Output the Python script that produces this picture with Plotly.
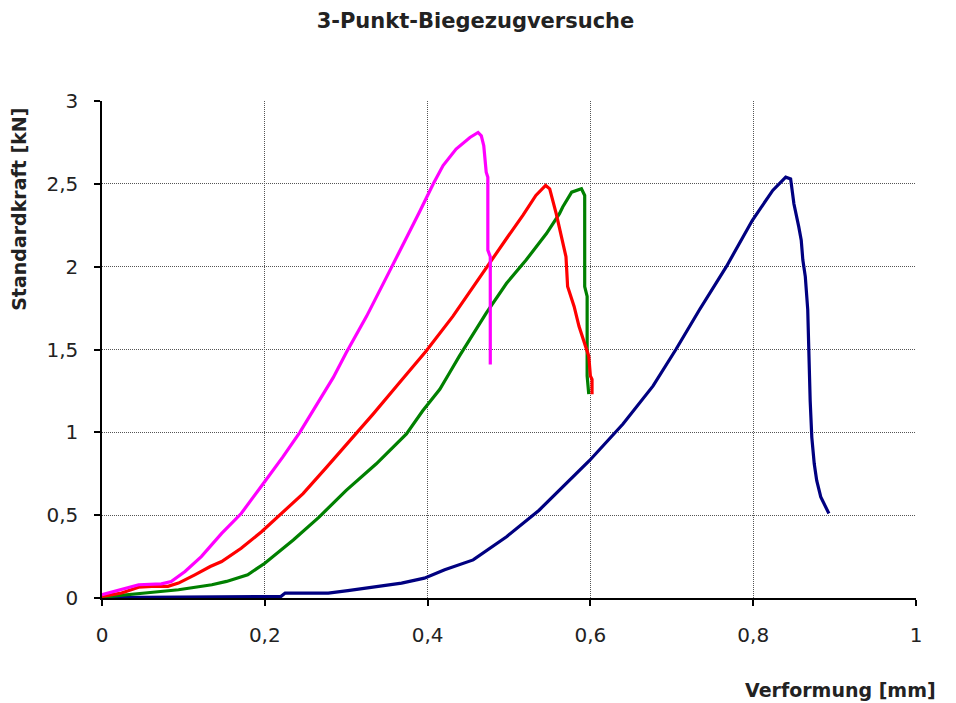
import plotly.graph_objects as go

# Verformung [mm] / Standardkraft [kN] per specimen
magenta_x = [0.0, 0.016, 0.032, 0.045, 0.073, 0.085, 0.102, 0.122, 0.147, 0.171, 0.198, 0.222, 0.243, 0.267, 0.284,
             0.300, 0.325, 0.353, 0.378, 0.390, 0.407, 0.419, 0.435, 0.452, 0.462, 0.466, 0.469, 0.472, 0.474, 0.474,
             0.477, 0.477]
magenta_y = [0.02, 0.04, 0.065, 0.08, 0.085, 0.10, 0.16, 0.25, 0.39, 0.51, 0.69, 0.85, 1.00, 1.19, 1.33,
             1.48, 1.70, 1.97, 2.21, 2.33, 2.50, 2.61, 2.71, 2.78, 2.81, 2.79, 2.73, 2.57, 2.54, 2.10,
             2.06, 1.41]

red_x = [0.0, 0.024, 0.045, 0.061, 0.081, 0.094, 0.114, 0.133, 0.147, 0.171, 0.196, 0.220, 0.247, 0.276, 0.312,
         0.333, 0.362, 0.398, 0.431, 0.456, 0.472, 0.497, 0.517, 0.533, 0.545, 0.550, 0.558, 0.566, 0.570, 0.572,
         0.580, 0.586, 0.593, 0.598, 0.600, 0.602, 0.602]
red_y = [0.01, 0.03, 0.065, 0.07, 0.07, 0.09, 0.14, 0.19, 0.22, 0.30, 0.40, 0.51, 0.63, 0.79, 0.99,
         1.11, 1.28, 1.49, 1.70, 1.88, 1.99, 2.17, 2.31, 2.43, 2.49, 2.47, 2.32, 2.16, 2.06, 1.88,
         1.76, 1.64, 1.54, 1.46, 1.34, 1.32, 1.23]

green_x = [0.0, 0.028, 0.053, 0.094, 0.135, 0.153, 0.179, 0.200, 0.235, 0.267, 0.300, 0.337, 0.374, 0.394, 0.415,
           0.427, 0.439, 0.472, 0.497, 0.521, 0.546, 0.562, 0.566, 0.577, 0.589, 0.593, 0.593, 0.596, 0.596, 0.598]
green_y = [0.005, 0.02, 0.03, 0.05, 0.08, 0.10, 0.14, 0.21, 0.35, 0.49, 0.65, 0.81, 0.99, 1.13, 1.26,
           1.36, 1.46, 1.72, 1.90, 2.04, 2.20, 2.32, 2.36, 2.45, 2.47, 2.43, 1.88, 1.82, 1.34, 1.23]

navy_x = [0.0, 0.10, 0.22, 0.225, 0.253, 0.278, 0.302, 0.339, 0.368, 0.396, 0.421, 0.456, 0.497, 0.537, 0.599,
          0.640, 0.677, 0.705, 0.734, 0.767, 0.799, 0.824, 0.840, 0.846, 0.850, 0.856, 0.859, 0.861, 0.864, 0.867,
          0.868, 0.870, 0.872, 0.875, 0.878, 0.883, 0.893]
navy_y = [0.003, 0.005, 0.01, 0.03, 0.03, 0.03, 0.045, 0.07, 0.09, 0.12, 0.17, 0.23, 0.37, 0.53, 0.83,
          1.05, 1.28, 1.50, 1.74, 2.00, 2.28, 2.46, 2.54, 2.53, 2.38, 2.24, 2.16, 2.04, 1.94, 1.74,
          1.48, 1.19, 0.97, 0.81, 0.71, 0.61, 0.51]

x_ticks = [0, 0.2, 0.4, 0.6, 0.8, 1]
x_labels = ["0", "0,2", "0,4", "0,6", "0,8", "1"]
y_ticks = [0, 0.5, 1, 1.5, 2, 2.5, 3]
y_labels = ["0", "0,5", "1", "1,5", "2", "2,5", "3"]

fig = go.Figure()
for xs, ys, col in [(navy_x, navy_y, "#000080"), (green_x, green_y, "#008000"),
                    (red_x, red_y, "#FF0000"), (magenta_x, magenta_y, "#FF00FF")]:
    fig.add_trace(go.Scatter(x=xs, y=ys, mode="lines", line=dict(color=col, width=3.2),
                             showlegend=False, hoverinfo="skip"))

font = "DejaVu Sans, Arial, sans-serif"
axis_common = dict(showline=True, linecolor="black", linewidth=1.5, ticks="outside", ticklen=6,
                   tickcolor="black", tickwidth=1.5, showgrid=True, gridcolor="#555555", griddash="1px,1px",
                   gridwidth=1, zeroline=False, tickfont=dict(family=font, size=20, color="#222"))
fig.update_xaxes(range=[0, 1], tickvals=x_ticks, ticktext=x_labels, ticklabelstandoff=12, **axis_common)
fig.update_yaxes(range=[0, 3], tickvals=y_ticks, ticktext=y_labels, ticklabelstandoff=12, **axis_common)

fig.update_layout(
    width=956, height=703,
    margin=dict(l=94, r=48, t=93, b=113),
    paper_bgcolor="white", plot_bgcolor="white",
    title=dict(text="<b>3-Punkt-Biegezugversuche</b>", x=0.489, xanchor="center", xref="container",
               y=0.9815, yanchor="middle", yref="container",
               font=dict(family=font, size=21, color="#222")),
    annotations=[
        dict(text="<b>Verformung [mm]</b>", xref="paper", yref="paper", x=1.027, y=-0.185,
             xanchor="right", yanchor="middle", showarrow=False, font=dict(family=font, size=19, color="#222")),
        dict(text="<b>Standardkraft [kN]</b>", xref="paper", yref="paper", x=-0.102, y=0.783,
             xanchor="center", yanchor="middle", textangle=-90, showarrow=False,
             font=dict(family=font, size=19, color="#222")),
    ],
)
fig.write_html("out.html")
